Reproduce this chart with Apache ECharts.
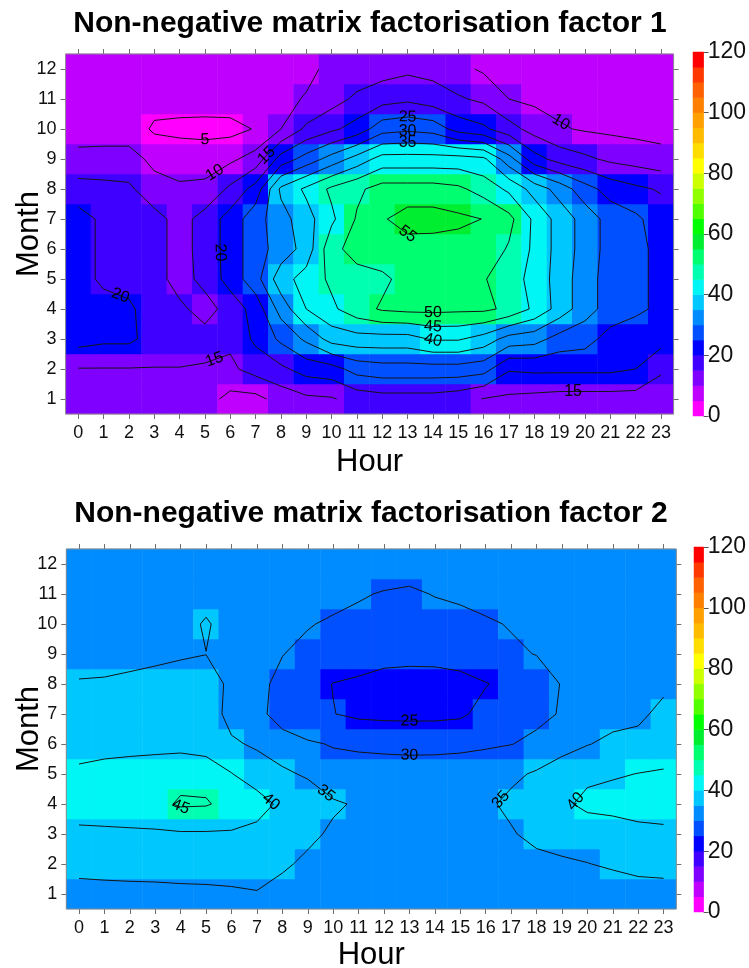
<!DOCTYPE html>
<html><head><meta charset="utf-8">
<script src="https://cdn.jsdelivr.net/npm/echarts@6/dist/echarts.min.js"></script>
<style>html,body{margin:0;padding:0;background:#fff}#c{width:749px;height:968px}</style>
</head><body><div id="c"></div>
<script>
// ---------- categories / ticks ----------
const hours = ['0','1','2','3','4','5','6','7','8','9','10','11','12','13','14','15','16','17','18','19','20','21','22','23'];
const months = ['1','2','3','4','5','6','7','8','9','10','11','12'];
const contourLevels1 = [5,10,15,20,25,30,35,40,45,50,55];
const contourLevels2 = [25,30,35,40,45];
const colorBandStep = 5;
const bandColors = ['#ff00ff','#bf00ff','#8000ff','#4000ff','#0000ff','#0050ff','#008cff','#00c8ff',
  '#00f5f5','#00ffb0','#00ff70','#00ee30','#00ff00','#50ff00','#90ff00','#ccff00',
  '#ffff00','#ffdd00','#ffbb00','#ffa000','#ff8000','#ff6000','#ff3800','#ff0000'];

// ---------- factor 1 values (hour 0..23) per month ----------
const f1_m01 = [12,12,12,12,12,12,8.5,8.5,12,14,14.5,17,18,18,18,17,14.8,14,13.5,13,13,13,13,13];
const f1_m02 = [14.8,14.8,14.8,14.8,14.8,14.5,14,17,19,22,23,27,28,28,28,28,27,20.5,21,21,21,21,20,15.5];
const f1_m03 = [22,21,21,18,18,17,16,21,26,31,37,38,38,38,40.5,40.5,38,33,32,28,27,23,22,22];
const f1_m04 = [22,22,21,17,16,13,17,22,32,40,44,48,50.6,51.3,51.3,51,51,49,44,38,32,28,26,24];
const f1_m05 = [22,19,18,17,13,16.5,22,28,38,42,46,48,49,51.7,52,52,50.3,47.8,43,38,32,28,26,24];
const f1_m06 = [22,19,18,17,13,17,22,28,32,37,48.5,52,53,53,52.8,53,53,49.5,44,38,33,28,26,24];
const f1_m07 = [22,19,18,17,13,17,22,28,33,38,44,50.5,54.5,57,57,56,54.9,51.5,44,38,33,28,26,22.5];
const f1_m08 = [17,16.5,16,11.5,10.5,11,16,22,36,41,46,49,52,52,52,51,48,44,38,33,27,23,21,19.5];
const f1_m09 = [11.3,11.5,11.5,9,8.5,8,9,12,22,27,32,37,42,42,42,42,41,32,22,18,16,14,13,12];
const f1_m10 = [8,8,8,4.2,3.5,3.3,3.5,5.3,10,16,19,22,28,29,28,23,21,17,13,10.5,9.5,9,8.5,8];
const f1_m11 = [7,7,7,7,7.5,7.5,7.5,8,9,10.3,13,16,18,19,17.3,15.6,14,10,9,8.5,8,7.5,7,7];
const f1_m12 = [7,7,7,7,7,7,7,7,8,9,11,12,13,14,13.5,11.3,9.3,8,7.5,7,7,7,7,7];

// ---------- factor 2 values (hour 0..23) per month ----------
const f2_m01 = [33.6,33.8,33.9,34,34.2,34.3,34.5,34.8,33.4,33,32.8,32.8,32.8,32.8,32.8,32.8,32.8,32.8,32.8,32.8,32.8,33,33.6,33.9];
const f2_m02 = [36.3,36.4,36.5,36.5,36.5,36.5,36.5,36.5,35.7,34.1,33.5,33.2,33,33,33,33,33,33,33.3,34.3,34.9,35.5,36,36];
const f2_m03 = [38.7,38.9,39.1,39.3,39.5,39.5,39.5,38.2,37,36,34.3,33.5,33.2,33.2,33.3,33.5,34,34.5,36.6,37,37,37,38.3,38.6];
const f2_m04 = [43,43.2,43.4,43.6,45.6,45.4,43.5,42.6,38.6,37.4,35.6,34.5,34,33.8,33.8,33.9,34.1,36.1,38,39,41.2,42,42.5,43];
const f2_m05 = [41.1,42,42.8,43.3,43.5,43.5,40.2,36.9,35.7,34.5,32,33,33,33,33,33,33.3,34,35.6,37.8,39,39.5,40.1,40.5];
const f2_m06 = [37.8,38,38,38.2,38.5,37.5,35.5,34.5,32.9,30.6,29.7,28.9,28.5,28.2,28.3,28.7,29.3,29.9,30.9,33,34.8,36,36.5,37.5];
const f2_m07 = [35.5,36,36.3,36.5,37,37,33.8,32,27,26,25.1,24.2,24,24,24,24.3,26.4,27.5,29,30.3,32,33.5,34,36.3];
const f2_m08 = [35.4,35.6,36.4,36.8,37,37,34.1,32,28,26.5,24.9,24.2,23,23,23,23.5,24.8,26.2,28,30.2,32,33,33.5,34];
const f2_m09 = [33,33,33,33.8,34.5,34.95,34,33,30.2,28,27.5,27.3,26.8,26.4,26.5,27,28,29.5,30.1,31.5,32.5,33,33,33];
const f2_m10 = [33,33,33,33,33.3,35.5,33,32.5,31.5,30.5,28.9,28.9,28.3,28,28.2,28.6,29.6,30.2,31.2,32,32.5,33,33,33];
const f2_m11 = [33,33,33,33,33,33.3,33.3,33,33,33,32.5,30.4,29.7,29.3,30.2,30.8,31.1,32,32.5,33,33,33,33,33];
const f2_m12 = [33,33,33,33,33,33,33,33,33,33,33,32.8,32.3,32,32.3,32.8,33,33,33,33,33,33,33,33];

const factor1 = [f1_m01,f1_m02,f1_m03,f1_m04,f1_m05,f1_m06,f1_m07,f1_m08,f1_m09,f1_m10,f1_m11,f1_m12];
const factor2 = [f2_m01,f2_m02,f2_m03,f2_m04,f2_m05,f2_m06,f2_m07,f2_m08,f2_m09,f2_m10,f2_m11,f2_m12];

// ---------- helpers ----------
const FF = '"Liberation Sans", Arial, Helvetica, sans-serif';
const FFN = '"Liberation Sans Narrow", "Arial Narrow", "Liberation Sans", Arial, sans-serif';
function heatData(rows){ const out=[]; rows.forEach((row,m)=>row.forEach((v,h)=>out.push([h,m,v]))); return out; }

// marching squares on cell centres (x = hour, y = month number)
function contour(rows, level){
  const ny = rows.length, nx = rows[0].length;
  const pts = {}; const segs = [];
  function ep(key, x1,y1,v1,x2,y2,v2){
    if(!(key in pts)){ const t=(level-v1)/(v2-v1); pts[key]=[x1+t*(x2-x1), y1+t*(y2-y1)]; }
    return key;
  }
  for(let m=0;m<ny-1;m++){
    for(let h=0;h<nx-1;h++){
      const bl=rows[m][h], br=rows[m][h+1], tr=rows[m+1][h+1], tl=rows[m+1][h];
      const y0=m+1, y1=m+2;
      const a=[bl>=level, br>=level, tr>=level, tl>=level];
      const E={};
      if(a[0]!==a[1]) E.B=ep('H'+h+'_'+m, h,y0,bl, h+1,y0,br);
      if(a[1]!==a[2]) E.R=ep('V'+(h+1)+'_'+m, h+1,y0,br, h+1,y1,tr);
      if(a[3]!==a[2]) E.T=ep('H'+h+'_'+(m+1), h,y1,tl, h+1,y1,tr);
      if(a[0]!==a[3]) E.L=ep('V'+h+'_'+m, h,y0,bl, h,y1,tl);
      const k=Object.keys(E);
      if(k.length===2) segs.push([E[k[0]],E[k[1]]]);
      else if(k.length===4){
        const c=(bl+br+tr+tl)/4>=level;
        if(a[0]){ if(c){ segs.push([E.B,E.R]); segs.push([E.T,E.L]); } else { segs.push([E.L,E.B]); segs.push([E.R,E.T]); } }
        else { if(c){ segs.push([E.L,E.B]); segs.push([E.R,E.T]); } else { segs.push([E.B,E.R]); segs.push([E.T,E.L]); } }
      }
    }
  }
  const adj={};
  segs.forEach((s,i)=>{ (adj[s[0]]=adj[s[0]]||[]).push(i); (adj[s[1]]=adj[s[1]]||[]).push(i); });
  const used=new Array(segs.length).fill(false); const chains=[];
  function walk(startKey){
    const keys=[startKey]; let cur=startKey;
    while(true){
      const nxt=(adj[cur]||[]).find(i=>!used[i]);
      if(nxt===undefined) break;
      used[nxt]=true; const s=segs[nxt]; cur = s[0]===cur ? s[1] : s[0]; keys.push(cur);
    }
    return {pts: keys.map(k=>pts[k]), closed: keys.length>2 && keys[0]===keys[keys.length-1]};
  }
  Object.keys(adj).forEach(k=>{ if(adj[k].length===1 && adj[k].some(i=>!used[i])) chains.push(walk(k)); });
  segs.forEach((s,i)=>{ if(!used[i]) chains.push(walk(s[0])); });
  return chains;
}

function buildContours(rows, levels, plot){
  const sx = plot.width/24, sy = plot.height/12;
  const lines=[], labels=[], bottoms=[];
  const px = p=>[p[0]*sx, -p[1]*sy];
  function angleAt(ch, j){
    const a=ch[Math.max(0,j-1)], b=ch[Math.min(ch.length-1,j+1)];
    let ang=Math.atan2((b[1]-a[1])*sy, (b[0]-a[0])*sx);
    if(ang>Math.PI/2) ang-=Math.PI; if(ang<-Math.PI/2) ang+=Math.PI;
    return ang;
  }
  levels.slice().sort((a,b)=>b-a).forEach(lv=>{
    contour(rows, lv).forEach(c=>{
      const ch=c.pts;
      if(ch.length<2) return;
      lines.push(ch);
      const xs=ch.map(p=>p[0]*sx); const w=Math.max(...xs)-Math.min(...xs);
      const cum=[0];
      for(let i=1;i<ch.length;i++){ const dx=(ch[i][0]-ch[i-1][0])*sx, dy=(ch[i][1]-ch[i-1][1])*sy; cum.push(cum[i-1]+Math.hypot(dx,dy)); }
      const L=cum[cum.length-1];
      if(c.closed){
        if(w<30) return;
        let jb=0, jt=0;
        ch.forEach((p,i)=>{ if(p[1]<ch[jb][1]) jb=i; if(p[1]>ch[jt][1]) jt=i; });
        const cp=px(ch[jb]);
        const stack=bottoms.filter(q=>Math.abs(q[0]-cp[0])<40 && Math.abs(q[1]-cp[1])<100).length;
        let j=jb;
        if(stack>=3) j=jt; else bottoms.push(cp);
        const p=ch[j];
        labels.push([p[0],p[1],lv,angleAt(ch,j)]);
      } else {
        if(L<60) return;
        const half=L/2; let j=1; while(j<cum.length-1 && cum[j]<half) j++;
        const t=(half-cum[j-1])/((cum[j]-cum[j-1])||1);
        const x=ch[j-1][0]+t*(ch[j][0]-ch[j-1][0]), y=ch[j-1][1]+t*(ch[j][1]-ch[j-1][1]);
        let ang=Math.atan2((ch[j][1]-ch[j-1][1])*sy, (ch[j][0]-ch[j-1][0])*sx);
        if(ang>Math.PI/2) ang-=Math.PI; if(ang<-Math.PI/2) ang+=Math.PI;
        labels.push([x,y,lv,ang]);
      }
    });
  });
  return {lines, labels};
}

// ---------- layout ----------
const P1 = {left:65.6, top:54, width:608, height:360};
const P2 = {left:66.3, top:549, width:610, height:360};
const C1 = {left:693, top:52, width:14, height:364};
const C2 = {left:694, top:547, width:14, height:365};

const cont1 = buildContours(factor1, contourLevels1, P1);
const cont2 = buildContours(factor2, contourLevels2, P2);

const chart = echarts.init(document.getElementById('c'), null, {renderer:'canvas', width:749, height:968});

function catX(grid, pos, labels){
  return {gridIndex:grid, type:'category', data:hours, position:pos,
    axisLine:{show:false}, splitLine:{show:false},
    axisTick:{show:true, alignWithLabel:true, interval:0, length:5, lineStyle:{color:'#6e6e6e', width:1}},
    axisLabel:{show:labels, interval:0, fontSize:18, color:'#111', fontFamily:FFN, margin:10}};
}
function catY(grid, pos, labels){
  return {gridIndex:grid, type:'category', data:months, position:pos,
    axisLine:{show:false}, splitLine:{show:false},
    axisTick:{show:true, alignWithLabel:true, interval:0, length:5, lineStyle:{color:'#6e6e6e', width:1}},
    axisLabel:{show:labels, interval:0, fontSize:18, color:'#111', fontFamily:FFN, margin:9}};
}
const hidVX = g=>({gridIndex:g, type:'value', min:-0.5, max:23.5, show:false});
const hidVY = g=>({gridIndex:g, type:'value', min:0.5, max:12.5, show:false});
const bandNames = bandColors.map((c,i)=>String(i*colorBandStep));
const cbarY = g=>({gridIndex:g, type:'category', data:bandNames, show:false});
const cbarV = g=>({gridIndex:g, type:'value', min:0, max:120, interval:20, position:'right',
  axisLine:{show:false}, splitLine:{show:false},
  axisTick:{show:true, length:5, lineStyle:{color:'#555'}},
  axisLabel:{fontSize:23, color:'#111', fontFamily:FF, margin:4}});

function lineSeries(xi, yi, lines){
  return {type:'custom', xAxisIndex:xi, yAxisIndex:yi, silent:true, clip:true, z:5, animation:false,
    data: lines.map((c,i)=>[c[0][0], c[0][1], i]), encode:{x:0,y:1},
    renderItem:(params, api)=>{
      const ch = lines[api.value(2)];
      return {type:'polyline', shape:{points: ch.map(p=>api.coord(p))}, style:{stroke:'#151515', lineWidth:1, fill:null}};
    }};
}
function labelSeries(xi, yi, labels){
  return {type:'custom', xAxisIndex:xi, yAxisIndex:yi, silent:true, clip:false, z:6, animation:false,
    data: labels, encode:{x:0,y:1},
    renderItem:(params, api)=>{
      const p = api.coord([api.value(0), api.value(1)]);
      return {type:'text', x:p[0], y:p[1], rotation: api.value(3),
        style:{text:String(api.value(2)), fill:'#000', font:'16px '+FF, align:'center', verticalAlign:'middle'}};
    }};
}
const cbarData = bandColors.map((c,i)=>[0, i, i*colorBandStep + colorBandStep/2]);

const option = {
  animation:false,
  backgroundColor:'#ffffff',
  grid:[
    Object.assign({}, P1, {show:false}),
    Object.assign({}, P2, {show:false}),
    Object.assign({}, P1, {show:true, z:10, borderColor:'#8a8a8a', borderWidth:1, backgroundColor:'transparent'}),
    Object.assign({}, P2, {show:true, z:10, borderColor:'#8a8a8a', borderWidth:1, backgroundColor:'transparent'}),
    Object.assign({}, C1, {show:false}),
    Object.assign({}, C2, {show:false})
  ],
  xAxis:[
    catX(0,'bottom',true), catX(0,'top',false), catX(1,'bottom',true), catX(1,'top',false),
    hidVX(2), hidVX(3),
    {gridIndex:4, type:'category', data:['c'], show:false},
    {gridIndex:5, type:'category', data:['c'], show:false}
  ],
  yAxis:[
    catY(0,'left',true), catY(0,'right',false), catY(1,'left',true), catY(1,'right',false),
    hidVY(2), hidVY(3),
    cbarY(4), cbarV(4), cbarY(5), cbarV(5)
  ],
  visualMap:{type:'piecewise', show:false, seriesIndex:[0,1,2,3], dimension:2,
    pieces: bandColors.map((c,i)=> i===bandColors.length-1 ? {gte:i*colorBandStep, lte:(i+1)*colorBandStep, color:c} : {gte:i*colorBandStep, lt:(i+1)*colorBandStep, color:c})},
  series:[
    {type:'heatmap', xAxisIndex:0, yAxisIndex:0, data:heatData(factor1), itemStyle:{borderWidth:0}, emphasis:{disabled:true}, silent:true},
    {type:'heatmap', xAxisIndex:2, yAxisIndex:2, data:heatData(factor2), itemStyle:{borderWidth:0}, emphasis:{disabled:true}, silent:true},
    {type:'heatmap', xAxisIndex:6, yAxisIndex:6, data:cbarData, itemStyle:{borderWidth:0}, emphasis:{disabled:true}, silent:true},
    {type:'heatmap', xAxisIndex:7, yAxisIndex:8, data:cbarData, itemStyle:{borderWidth:0}, emphasis:{disabled:true}, silent:true},
    lineSeries(4,4,cont1.lines), labelSeries(4,4,cont1.labels),
    lineSeries(5,5,cont2.lines), labelSeries(5,5,cont2.labels)
  ],
  graphic:[
    {type:'text', x:370, y:24, style:{text:'Non-negative matrix factorisation factor 1', font:'bold 30px '+FF, fill:'#000', align:'center', verticalAlign:'middle'}},
    {type:'text', x:371, y:514, style:{text:'Non-negative matrix factorisation factor 2', font:'bold 30px '+FF, fill:'#000', align:'center', verticalAlign:'middle'}},
    {type:'text', x:369.6, y:462, style:{text:'Hour', font:'31px '+FF, fill:'#000', align:'center', verticalAlign:'middle'}},
    {type:'text', x:371.3, y:955, style:{text:'Hour', font:'31px '+FF, fill:'#000', align:'center', verticalAlign:'middle'}},
    {type:'text', x:29, y:234, rotation:Math.PI/2, style:{text:'Month', font:'31px '+FF, fill:'#000', align:'center', verticalAlign:'middle'}},
    {type:'text', x:29, y:729, rotation:Math.PI/2, style:{text:'Month', font:'31px '+FF, fill:'#000', align:'center', verticalAlign:'middle'}}
  ]
};
chart.setOption(option);
</script>
</body></html>
